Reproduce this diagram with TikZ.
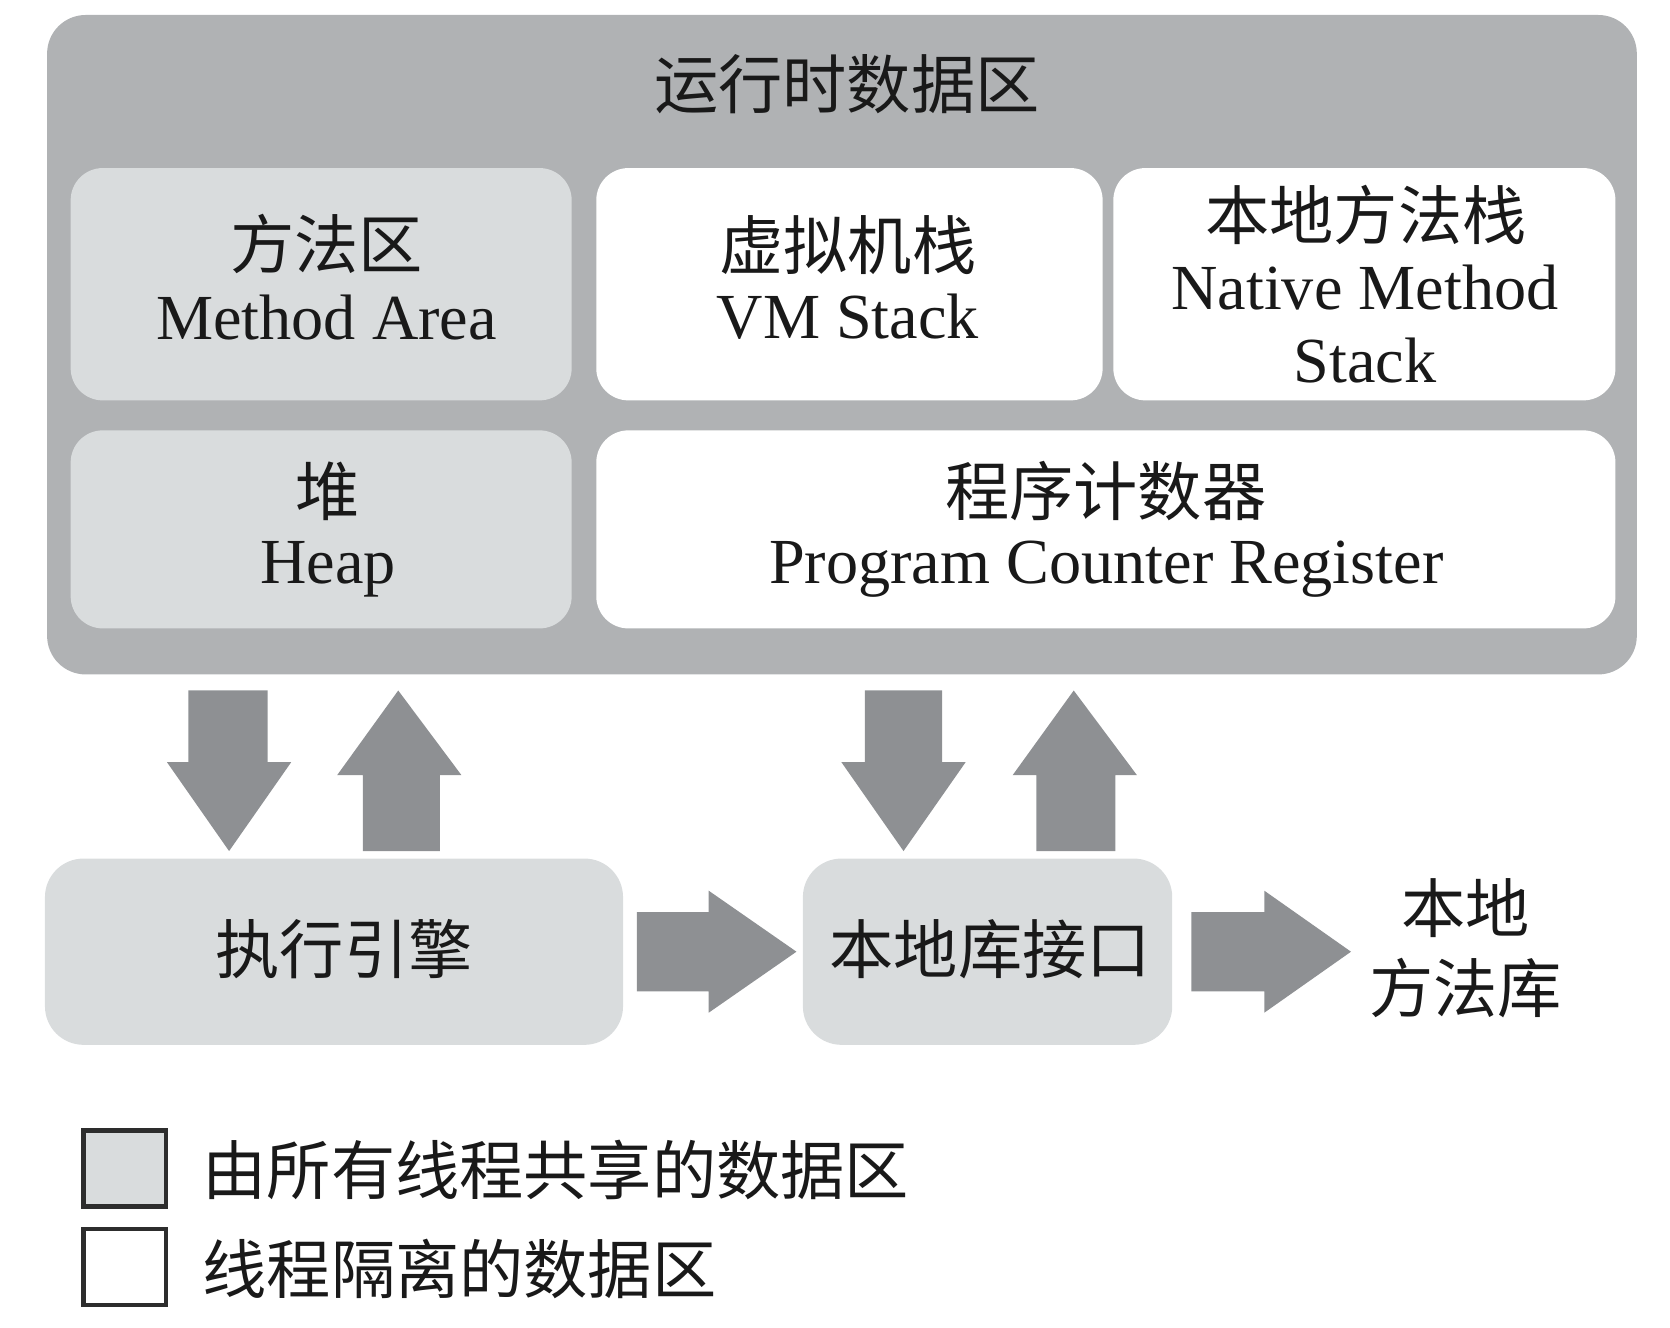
\documentclass[tikz,border=0pt]{standalone}
\usepackage{fontspec}
\setmainfont{Liberation Serif}
\newfontfamily\cjk{Noto Sans CJK SC}
\definecolor{outerg}{RGB}{176,178,180}
\definecolor{lightg}{RGB}{217,220,221}
\definecolor{arrowg}{RGB}{142,144,147}
\definecolor{legline}{RGB}{45,45,45}
\begin{document}
\begin{tikzpicture}[x=1pt,y=-1pt,
  txt/.style={inner sep=0pt, anchor=base, font=\fontsize{60}{66}\selectfont, text=black!90},
  region/.style={inner sep=0pt, rounded corners=30pt},
  shared/.style={region, fill=lightg},
  private/.style={region, fill=white},
  blockarrow/.style={fill=arrowg, draw=none},
  legbox/.style={draw=legline, line width=4pt, minimum width=77pt, minimum height=71pt, inner sep=0pt},
  legtxt/.style={txt, anchor=base west}]
\useasboundingbox (0,0) rectangle (1560,1240);
% outer runtime data area
\node[region, fill=outerg, minimum width=1485pt, minimum height=616pt, rounded corners=36pt] (rt) at (786.5,322) {};
\node[txt] (rttitle) at (791,101) {\cjk 运行时数据区};
% inner regions
\node[shared, minimum width=468pt, minimum height=217pt] (ma) at (300,265.5) {};
\node[txt] (ma1) at (305,251) {\cjk 方法区};
\node[txt] (ma2) at (305,317) {Method Area};
\node[private, minimum width=473pt, minimum height=217pt] (vm) at (793.5,265.5) {};
\node[txt] (vm1) at (792,252) {\cjk 虚拟机栈};
\node[txt] (vm2) at (792,316) {VM Stack};
\node[private, minimum width=469pt, minimum height=217pt] (nm) at (1274.5,265.5) {};
\node[txt] (nm1) at (1276,224) {\cjk 本地方法栈};
\node[txt] (nm2) at (1275,289) {Native Method};
\node[txt] (nm3) at (1275,357) {Stack};
\node[shared, minimum width=468pt, minimum height=185pt] (heap) at (300,494.5) {};
\node[txt] (hp1) at (306,482) {\cjk 堆};
\node[txt] (hp2) at (306.5,545) {Heap};
\node[private, minimum width=952pt, minimum height=185pt] (pc) at (1033,494.5) {};
\node[txt] (pc1) at (1033,482) {\cjk 程序计数器};
\node[txt] (pc2) at (1033.5,545) {Program Counter Register};
% bottom boxes
\node[shared, minimum width=540pt, minimum height=174pt, rounded corners=36pt] (ee) at (312,889) {};
\node[txt] (eetxt) at (321.5,909) {\cjk 执行引擎};
\node[shared, minimum width=345pt, minimum height=174pt, rounded corners=36pt] (ni) at (922.5,889) {};
\node[txt] (nitxt) at (925,909) {\cjk 本地库接口};
\node[txt] (nl1) at (1369,871.5) {\cjk 本地};
\node[txt] (nl2) at (1369,946) {\cjk 方法库};
% block arrows
\fill[blockarrow] (176,645) -- (250,645) -- (250,712) -- (272,712) -- (214,795) -- (156,712) -- (176,712) -- cycle;
\fill[blockarrow] (372,645) -- (431,724) -- (411,724) -- (411,795) -- (339,795) -- (339,724) -- (315,724) -- cycle;
\fill[blockarrow] (808,645) -- (880,645) -- (880,712) -- (902,712) -- (844,795) -- (786,712) -- (808,712) -- cycle;
\fill[blockarrow] (1003,645) -- (1062,724) -- (1042,724) -- (1042,795) -- (968,795) -- (968,724) -- (946,724) -- cycle;
\fill[blockarrow] (595,852) -- (662,852) -- (662,832) -- (744,889) -- (662,946) -- (662,926) -- (595,926) -- cycle;
\fill[blockarrow] (1113,852) -- (1181,852) -- (1181,832) -- (1262,889) -- (1181,946) -- (1181,926) -- (1113,926) -- cycle;
% legend
\node[legbox, fill=lightg] (lg1) at (116.5,1091.5) {};
\node[legtxt] (lt1) at (189,1116) {\cjk 由所有线程共享的数据区};
\node[legbox, fill=white] (lg2) at (116.5,1183.5) {};
\node[legtxt] (lt2) at (189,1208) {\cjk 线程隔离的数据区};
\end{tikzpicture}
\end{document}
